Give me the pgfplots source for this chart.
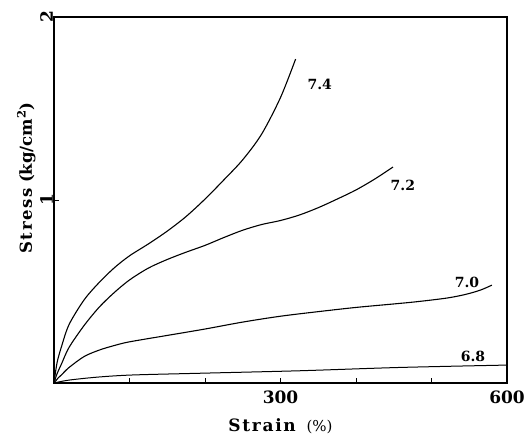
\documentclass[border=0pt]{standalone}
\usepackage{fontspec}
\setmainfont{DejaVu Serif}
\newfontfamily\spaced[LetterSpace=10]{DejaVu Serif}
\usepackage{pgfplots}
\pgfplotsset{compat=1.18}
\pgfplotstableread{
x y
0 0
4 0.11
10 0.20
20 0.32
40 0.455
60 0.55
80 0.63
100 0.695
125 0.76
150 0.83
175 0.91
200 1.005
225 1.11
250 1.22
275 1.36
300 1.56
320 1.77
}\ctA
\pgfplotstableread{
x y
0 0
4 0.05
10 0.105
20 0.195
40 0.315
60 0.415
80 0.495
100 0.563
125 0.628
150 0.675
175 0.715
200 0.752
225 0.795
250 0.835
275 0.866
300 0.888
325 0.918
350 0.958
375 1.005
400 1.055
425 1.115
449 1.18
}\ctB
\pgfplotstableread{
x y
0 0
5 0.025
10 0.045
20 0.085
40 0.145
60 0.18
80 0.205
100 0.225
150 0.26
200 0.295
250 0.333
300 0.365
350 0.39
400 0.413
450 0.432
480 0.444
520 0.464
545 0.484
565 0.508
580 0.535
}\ctC
\pgfplotstableread{
x y
0 0
20 0.016
60 0.033
105 0.044
200 0.054
326 0.067
458 0.085
600 0.098
}\ctD
\begin{document}
\begin{tikzpicture}
\begin{axis}[
  scale only axis,
  width=453pt, height=366pt,
  xmin=0, xmax=600, ymin=0, ymax=2,
  axis line style={line width=1.8pt},
  xtick={300,600}, xticklabels={300,600},
  minor xtick={100,200,400,500},
  ytick={1,2}, yticklabels={1,2},
  tick align=inside,
  xtick pos=bottom, ytick pos=left,
  major tick length=5pt, minor tick length=5pt,
  every tick/.style={black, line width=1pt},
  /pgf/number format/assume math mode=true,
  xticklabel style={font=\fontsize{17}{19}\selectfont\bfseries, inner sep=1pt, yshift=-7pt},
  yticklabel style={font=\fontsize{17}{19}\selectfont\bfseries, rotate=90, anchor=south, inner sep=1pt},
  xlabel={{\spaced\bfseries Strain}\ \ {\fontsize{15}{17}\selectfont (\%)}},
  xlabel style={font=\fontsize{17}{19}\selectfont, at={(axis description cs:0.5,0)}, anchor=north, yshift=-32pt},
  ylabel={{\spaced\bfseries Stress} {\bfseries (kg/cm$^{\mathbf 2}$)}},
  ylabel style={font=\fontsize{16.5}{18}\selectfont, at={(axis description cs:0,0.56)}, anchor=south, yshift=15pt},
  clip=false,
]
\addplot[black, line width=1.1pt, smooth, tension=0.5] table {\ctA};
\addplot[black, line width=1.1pt, smooth, tension=0.5] table {\ctB};
\addplot[black, line width=1.1pt, smooth, tension=0.5] table {\ctC};
\addplot[black, line width=1pt, smooth, tension=0.5] table {\ctD};
\node[font=\fontsize{14}{16}\selectfont\bfseries] at (axis cs:352,1.63) {7.4};
\node[font=\fontsize{14}{16}\selectfont\bfseries] at (axis cs:462,1.08) {7.2};
\node[font=\fontsize{14}{16}\selectfont\bfseries] at (axis cs:547,0.55) {7.0};
\node[font=\fontsize{14}{16}\selectfont\bfseries] at (axis cs:555,0.145) {6.8};
\end{axis}
\path ([shift={(-54pt,-56pt)}]current axis.south west) rectangle ([shift={(20pt,17pt)}]current axis.north east);
\end{tikzpicture}
\end{document}
